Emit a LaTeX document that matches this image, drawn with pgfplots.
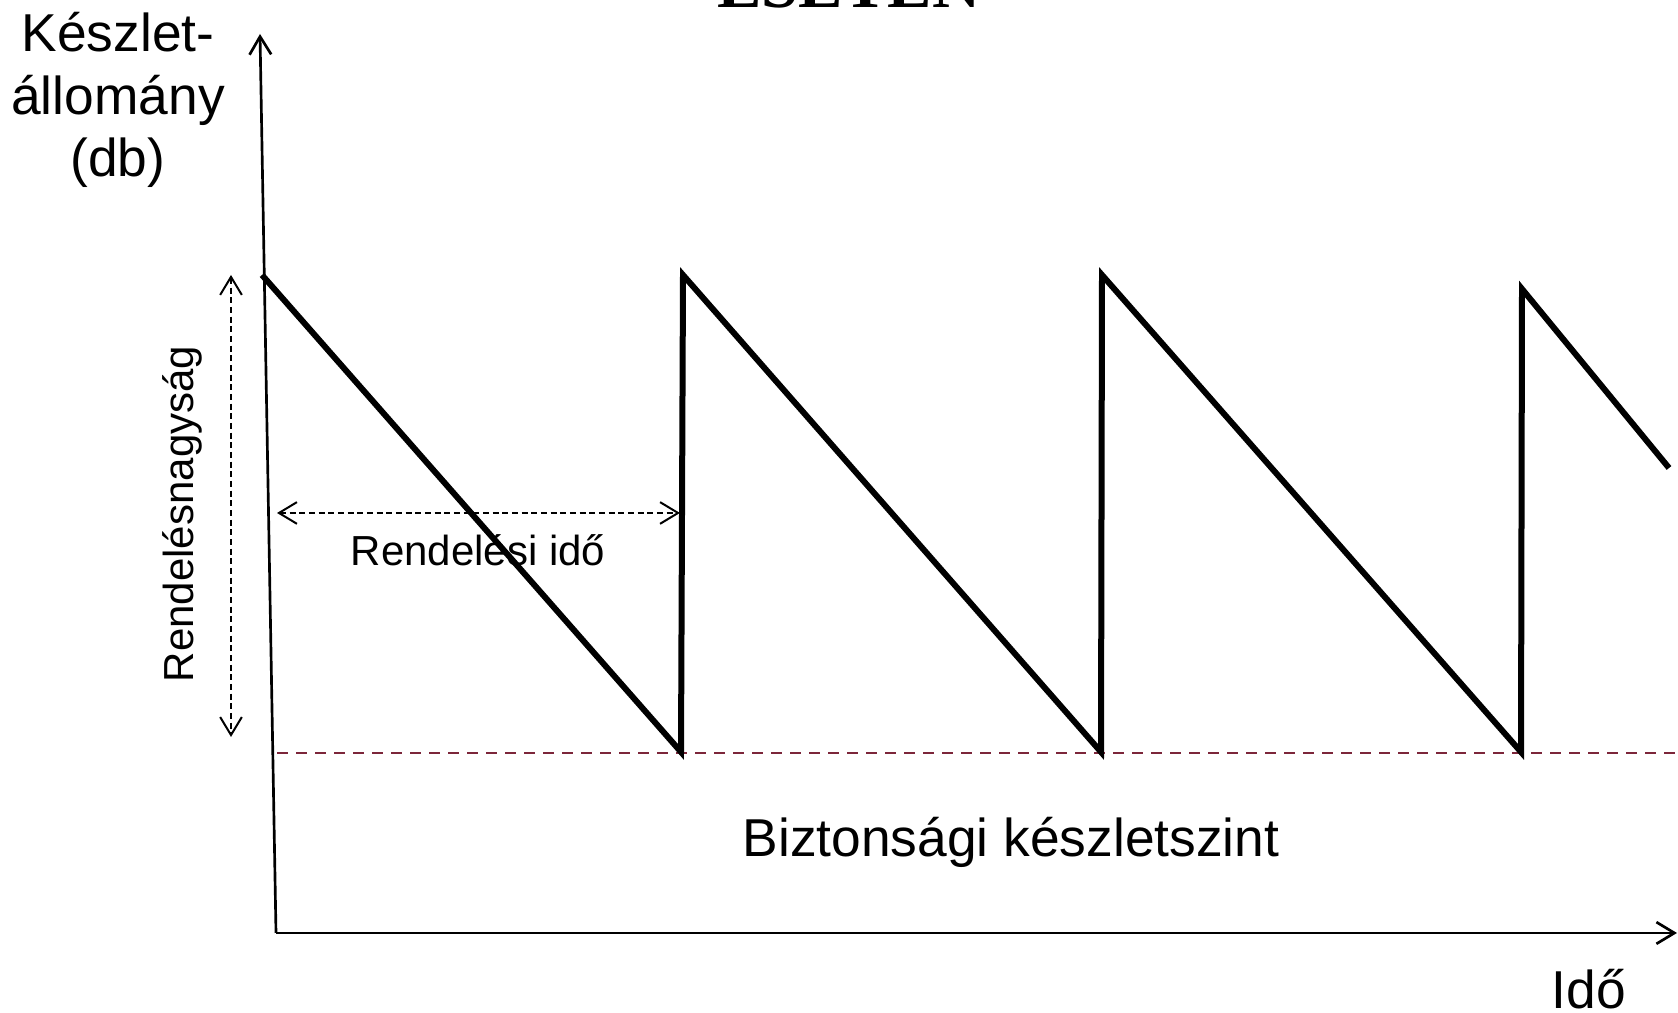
\documentclass[border=0pt]{standalone}
\usepackage{pgfplots}
\pgfplotsset{compat=1.18}
\usepackage{fontspec}
\setmainfont{Liberation Sans}
\newfontfamily\titlefont{Liberation Serif}
\usetikzlibrary{arrows.meta}
\definecolor{safety}{RGB}{124,38,58}
\begin{document}
\begin{tikzpicture}
\useasboundingbox (0,0) rectangle (503.4pt,303.9pt);
\begin{axis}[
  x=0.3pt, y=0.3pt,
  xmin=0, xmax=1678, ymin=0, ymax=1013,
  hide axis, clip=false,
  at={(0,0)}, anchor=south west,
]
% safety stock level
\addplot[safety, line width=0.8pt, dash pattern=on 3.4pt off 2.3pt] coordinates {(277,260) (1678,260)};
% inventory sawtooth
\addplot[black, line width=1.8pt, line join=miter] coordinates {
(262,738) (681,261) (683,738) (1101,261) (1102,738) (1521,261) (1522,724) (1669,545)};
% axes
\addplot[black, line width=0.8pt, -{Straight Barb[length=5.4pt,width=6.5pt]}] coordinates {(276,80) (260,979)};
\addplot[black, line width=0.8pt, -{Straight Barb[length=5.4pt,width=6.5pt]}] coordinates {(276,80) (1677,80)};
% order lead time arrow
\addplot[black, line width=0.6pt, dash pattern=on 1.8pt off 1.1pt, {Straight Barb[length=5.4pt,width=6.5pt]}-{Straight Barb[length=5.4pt,width=6.5pt]}] coordinates {(277,500) (680,500)};
% order quantity arrow
\addplot[black, line width=0.6pt, dash pattern=on 1.8pt off 1.1pt, {Straight Barb[length=5.4pt,width=6.5pt]}-{Straight Barb[length=5.4pt,width=6.5pt]}] coordinates {(231,738) (231,276)};
% texts
\node[anchor=base, inner sep=0pt, font=\fontsize{16}{19}\selectfont] at (axis cs:118,961) {Készlet-};
\node[anchor=base, inner sep=0pt, font=\fontsize{16}{19}\selectfont] at (axis cs:118,898) {állomány};
\node[anchor=base, inner sep=0pt, font=\fontsize{16}{19}\selectfont] at (axis cs:118,836) {(db)};
\node[rotate=90, inner sep=0pt, font=\fontsize{12.6}{15}\selectfont] at (axis cs:182,499) {Rendelésnagyság};
\node[inner sep=0pt, font=\fontsize{12.6}{15}\selectfont] at (axis cs:478,463) {Rendelési idő};
\node[inner sep=0pt, font=\fontsize{16}{19}\selectfont] at (axis cs:1011,171) {Biztonsági készletszint};
\node[anchor=base, inner sep=0pt, font=\fontsize{16}{19}\selectfont] at (axis cs:1589,4) {Idő};
\node[anchor=base, inner sep=0pt, font=\titlefont\bfseries\fontsize{20}{24}\selectfont] at (axis cs:849,1005) {ESETÉN};
\end{axis}
\end{tikzpicture}
\end{document}
